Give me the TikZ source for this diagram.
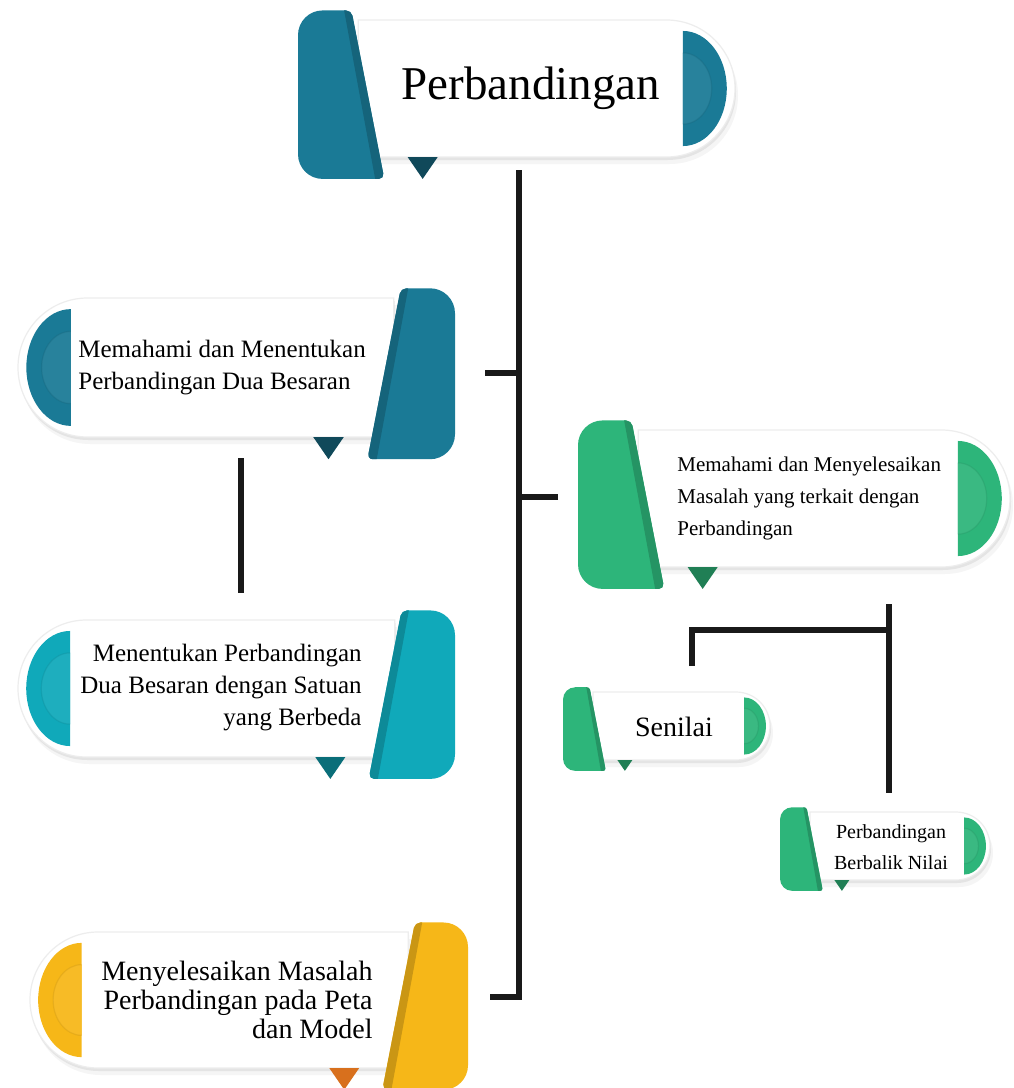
\documentclass[tikz,border=0pt]{standalone}
\usepackage{fontspec}
\setmainfont{Liberation Serif}
\usetikzlibrary{shadows}

\definecolor{tealblue}{HTML}{1A7A96}
\definecolor{cyanblue}{HTML}{10A9BA}
\definecolor{leafgreen}{HTML}{2DB57A}
\definecolor{sunyellow}{HTML}{F6B718}
\definecolor{sunorange}{HTML}{D8701D}

\tikzset{
  whitebox/.style={fill=white, draw=black!7, line width=0.6pt,
    drop shadow={shadow xshift=0.5pt, shadow yshift=-1.5pt, opacity=.14},
    drop shadow={shadow xshift=1.5pt, shadow yshift=-3.5pt, opacity=.08}},
  link/.style={line width=2.6pt, black!90},
  boxtext/.style={inner sep=0pt, font=\fontsize{12.5}{16}\selectfont}
}

% banner with the folded tab on the left and the half disc on the right
% #1 tab x, #2 box top, #3 box right, #4 box height, #5 colour, #6 tip colour
\newcommand{\bannerleft}[6]{%
  \pgfmathsetmacro{\bnA}{#1+0.44*#4}
  \pgfmathsetmacro{\bnU}{#2+#4}
  \pgfmathsetmacro{\bnR}{#4/2}
  \pgfmathsetmacro{\bnM}{#2+#4/2}
  \pgfmathsetmacro{\bnT}{#2-0.07*#4}
  \pgfmathsetmacro{\bnB}{#2+1.16*#4}
  \pgfmathsetmacro{\bnST}{\bnA-0.05*#4}
  \pgfmathsetmacro{\bnSB}{\bnA+0.19*#4}
  \pgfmathsetmacro{\bnW}{0.06*#4}
  \pgfmathsetmacro{\bnX}{\bnA+0.47*#4}
  \pgfmathsetmacro{\bnF}{#3-0.38*#4}
  \pgfmathsetlengthmacro{\bnRC}{0.09*#4}
  \pgfmathsetlengthmacro{\bnRS}{0.02*#4}
  % white box
  \path[whitebox] (\bnA,#2) -- ({#3-\bnR},#2) arc[start angle=-90, end angle=90, radius=\bnR] -- (\bnA,\bnU) -- cycle;
  % tip
  \fill[#6] ({\bnX-0.11*#4},\bnU) -- ({\bnX+0.11*#4},\bnU) -- (\bnX,{\bnU+0.16*#4}) -- cycle;
  % half disc
  \fill[#5] (\bnF,{\bnM-0.42*#4}) arc[start angle=-90, end angle=90, x radius=0.32*#4, y radius=0.42*#4] -- cycle;
  \fill[#5!94!white, draw=#5!80!black, draw opacity=.3, line width=0.6pt] (\bnF,{\bnM-0.26*#4}) arc[start angle=-90, end angle=90, x radius=0.21*#4, y radius=0.26*#4];
  % tab
  \fill[#5] (#1,\bnM) [rounded corners=\bnRC] -- (#1,\bnT) [rounded corners=\bnRS] -- (\bnST,\bnT) -- (\bnSB,\bnB) [rounded corners=\bnRC] -- (#1,\bnB) -- cycle;
  \begin{scope}
    \clip (#1,\bnM) [rounded corners=\bnRC] -- (#1,\bnT) [rounded corners=\bnRS] -- (\bnST,\bnT) -- (\bnSB,\bnB) [rounded corners=\bnRC] -- (#1,\bnB) -- cycle;
    \fill[#5!82!black] ({\bnST-\bnW},{\bnT-5}) -- ({\bnST+5},{\bnT-5}) -- ({\bnSB+5},{\bnB+5}) -- ({\bnSB-\bnW},{\bnB+5}) -- cycle;
  \end{scope}
}

% banner with the half disc on the left and the folded tab on the right
% #1 box left, #2 box top, #3 tab x, #4 box height, #5 colour, #6 tip colour
\newcommand{\bannerright}[6]{%
  \pgfmathsetmacro{\bnA}{#3-0.44*#4}
  \pgfmathsetmacro{\bnU}{#2+#4}
  \pgfmathsetmacro{\bnR}{#4/2}
  \pgfmathsetmacro{\bnM}{#2+#4/2}
  \pgfmathsetmacro{\bnT}{#2-0.07*#4}
  \pgfmathsetmacro{\bnB}{#2+1.16*#4}
  \pgfmathsetmacro{\bnST}{\bnA+0.05*#4}
  \pgfmathsetmacro{\bnSB}{\bnA-0.19*#4}
  \pgfmathsetmacro{\bnW}{0.06*#4}
  \pgfmathsetmacro{\bnX}{\bnA-0.47*#4}
  \pgfmathsetmacro{\bnF}{#1+0.38*#4}
  \pgfmathsetlengthmacro{\bnRC}{0.09*#4}
  \pgfmathsetlengthmacro{\bnRS}{0.02*#4}
  % white box
  \path[whitebox] (\bnA,#2) -- ({#1+\bnR},#2) arc[start angle=-90, end angle=-270, radius=\bnR] -- (\bnA,\bnU) -- cycle;
  % tip
  \fill[#6] ({\bnX-0.11*#4},\bnU) -- ({\bnX+0.11*#4},\bnU) -- (\bnX,{\bnU+0.16*#4}) -- cycle;
  % half disc
  \fill[#5] (\bnF,{\bnM-0.42*#4}) arc[start angle=-90, end angle=-270, x radius=0.32*#4, y radius=0.42*#4] -- cycle;
  \fill[#5!94!white, draw=#5!80!black, draw opacity=.3, line width=0.6pt] (\bnF,{\bnM-0.26*#4}) arc[start angle=-90, end angle=-270, x radius=0.21*#4, y radius=0.26*#4];
  % tab
  \fill[#5] (#3,\bnM) [rounded corners=\bnRC] -- (#3,\bnT) [rounded corners=\bnRS] -- (\bnST,\bnT) -- (\bnSB,\bnB) [rounded corners=\bnRC] -- (#3,\bnB) -- cycle;
  \begin{scope}
    \clip (#3,\bnM) [rounded corners=\bnRC] -- (#3,\bnT) [rounded corners=\bnRS] -- (\bnST,\bnT) -- (\bnSB,\bnB) [rounded corners=\bnRC] -- (#3,\bnB) -- cycle;
    \fill[#5!82!black] ({\bnST+\bnW},{\bnT-5}) -- ({\bnST-5},{\bnT-5}) -- ({\bnSB-5},{\bnB+5}) -- ({\bnSB+\bnW},{\bnB+5}) -- cycle;
  \end{scope}
}

\begin{document}
\begin{tikzpicture}[x=0.5pt, y=-0.5pt]
  \fill[white] (0,0) rectangle (1013,1088);
  \useasboundingbox (0,0) rectangle (1013,1088);

  % Banners
  \bannerleft{298}{20}{735}{137}{tealblue}{tealblue!60!black}
  \bannerright{18}{298}{455}{139}{tealblue}{tealblue!60!black}
  \bannerright{18}{620}{455}{137}{cyanblue}{cyanblue!65!black}
  \bannerright{30}{932}{468}{136}{sunyellow}{sunorange}
  \bannerleft{578}{430}{1010}{137}{leafgreen}{leafgreen!70!black}
  \bannerleft{563}{692}{770}{68}{leafgreen}{leafgreen!70!black}
  \bannerleft{780}{812}{990}{68}{leafgreen}{leafgreen!70!black}

  % Texts
  \node[boxtext, font=\fontsize{23.5}{28}\selectfont] (main) at (531,88) {Perbandingan};
  \node[boxtext, anchor=west, align=left] (dua) at (78,368) {Memahami dan Menentukan\\Perbandingan Dua Besaran};
  \node[boxtext, anchor=east, align=right] (satuan) at (362,688) {Menentukan Perbandingan\\Dua Besaran dengan Satuan\\yang Berbeda};
  \node[boxtext, anchor=east, align=right, font=\fontsize{14}{14.5}\selectfont] (peta) at (373,1000) {Menyelesaikan Masalah\\Perbandingan pada Peta\\dan Model};
  \node[boxtext, anchor=west, align=left, font=\fontsize{10.5}{16}\selectfont] (masalah) at (677,498) {Memahami dan Menyelesaikan\\Masalah yang terkait dengan\\Perbandingan};
  \node[boxtext, font=\fontsize{14}{16}\selectfont] (senilai) at (674,727) {Senilai};
  \node[boxtext, align=center, font=\fontsize{10}{15.5}\selectfont] (berbalik) at (891,847) {Perbandingan\\Berbalik Nilai};

  % Line ends
  \coordinate (trunk) at (519,170);
  \coordinate (dua end) at (485,373);
  \coordinate (masalah end) at (558,497);
  \coordinate (peta end) at (490,997);
  \coordinate (dua foot) at (241,458);
  \coordinate (satuan head) at (241,593);
  \coordinate (masalah foot) at (889,604);
  \coordinate (fork) at (889,630);
  \coordinate (senilai head) at (692,666);
  \coordinate (berbalik head) at (889,793);

  % Lines
  \draw[link] (trunk) |- (peta end);
  \draw[link] (dua end) -- (dua end -| trunk);
  \draw[link] (masalah end) -- (masalah end -| trunk);
  \draw[link] (dua foot) -- (satuan head);
  \draw[link] (masalah foot) -- (berbalik head);
  \draw[link] (senilai head) |- (fork);
\end{tikzpicture}
\end{document}
